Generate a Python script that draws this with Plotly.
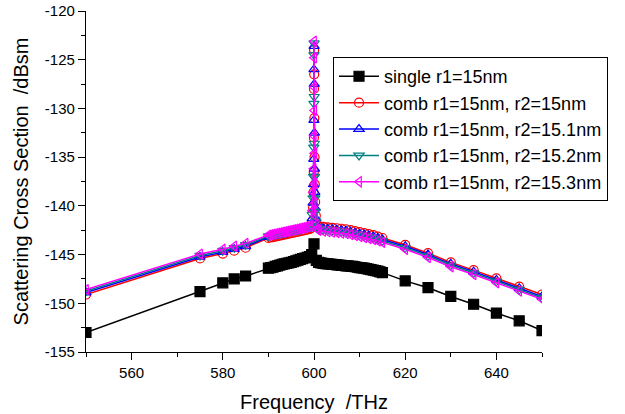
import plotly.graph_objects as go

# ---------------- data ----------------
f_single = [550, 575, 580, 582.5, 585,
            590, 590.5, 591, 591.5, 592, 592.5, 593, 593.5, 594, 594.5, 595, 595.5, 596, 596.5, 597, 597.5, 598, 598.5, 599, 599.5,
            600,
            600.5, 601, 601.5, 602, 602.5, 603, 603.5, 604, 604.5, 605, 605.5, 606, 606.5, 607, 607.5, 608, 608.5, 609, 609.5,
            610, 610.5, 611, 611.5, 612, 612.5, 613, 613.5, 614, 614.5, 615,
            620, 625, 630, 635, 640, 645, 650]
v_single = [-153.0, -148.8, -147.9, -147.5, -147.2,
            -146.4, -146.35, -146.3, -146.22, -146.15, -146.08, -146.0, -145.95, -145.9, -145.85, -145.8, -145.72, -145.65, -145.58, -145.5, -145.42, -145.35, -145.28, -145.2, -145.0,
            -143.9,
            -145.6, -145.8, -145.85, -145.9, -145.92, -145.95, -145.97, -146.0, -146.02, -146.05, -146.07, -146.1, -146.12, -146.15, -146.17, -146.2, -146.22, -146.25, -146.3,
            -146.35, -146.37, -146.4, -146.45, -146.5, -146.55, -146.6, -146.65, -146.7, -146.77, -146.85,
            -147.7, -148.4, -149.3, -150.1, -151.0, -151.8, -152.8]

f_comb = [550, 575, 580, 582.5, 585,
          590, 590.5, 591, 591.5, 592, 592.5, 593, 593.5, 594, 594.5, 595, 595.5, 596, 596.5, 597, 597.5, 598, 598.5, 599, 599.3,
          599.6, 599.8, 599.9, 599.95, 599.98, 600.0, 600.02, 600.05, 600.08, 600.12, 600.18, 600.25, 600.4, 600.7,
          601, 602, 603, 604, 605, 606, 607, 608, 609, 610, 611, 612, 613, 614, 615,
          620, 625, 630, 635, 640, 645, 650]

v_r15 = [-149.1, -145.4, -144.9, -144.6, -144.3,
         -143.3, -143.25, -143.2, -143.15, -143.1, -143.05, -143.0, -142.95, -142.9, -142.85, -142.8, -142.75, -142.7, -142.65, -142.6, -142.55, -142.5, -142.45, -142.4, -142.3,
         -141.6, -140.2, -138.6, -136.5, -133.0, -128.0, -124.0, -126.5, -131.0, -135.0, -137.8, -139.6, -141.0, -141.9,
         -142.1, -142.15, -142.2, -142.25, -142.3, -142.35, -142.4, -142.5, -142.6, -142.7, -142.8, -142.9, -143.0, -143.15, -143.3,
         -144.0, -144.85, -145.8, -146.6, -147.45, -148.3, -149.1]

v_r151 = [-148.9, -145.25, -144.75, -144.45, -144.15,
          -143.2, -143.15, -143.1, -143.05, -143.0, -142.95, -142.9, -142.85, -142.8, -142.75, -142.7, -142.65, -142.6, -142.55, -142.5, -142.45, -142.4, -142.35, -142.3, -142.2,
          -141.3, -139.7, -137.8, -135.2, -131.2, -126.0, -123.6, -127.5, -132.5, -136.2, -138.6, -140.2, -141.3, -142.0,
          -142.2, -142.3, -142.35, -142.4, -142.45, -142.5, -142.55, -142.65, -142.75, -142.85, -142.95, -143.05, -143.15, -143.3, -143.45,
          -144.15, -145.0, -145.95, -146.75, -147.6, -148.45, -149.3]

v_r152 = [-148.75, -145.1, -144.6, -144.3, -144.0,
          -143.1, -143.05, -143.0, -142.95, -142.9, -142.85, -142.8, -142.75, -142.7, -142.65, -142.6, -142.55, -142.5, -142.45, -142.4, -142.35, -142.3, -142.25, -142.2, -142.1,
          -140.9, -139.2, -137.0, -134.0, -129.5, -124.5, -123.3, -128.8, -133.6, -137.0, -139.2, -140.6, -141.6, -142.2,
          -142.35, -142.45, -142.5, -142.55, -142.6, -142.65, -142.7, -142.8, -142.9, -143.0, -143.1, -143.2, -143.3, -143.45, -143.6,
          -144.3, -145.15, -146.1, -146.9, -147.75, -148.6, -149.45]

v_r153 = [-148.6, -144.95, -144.45, -144.15, -143.85,
          -143.0, -142.95, -142.9, -142.85, -142.8, -142.75, -142.7, -142.65, -142.6, -142.55, -142.5, -142.45, -142.4, -142.35, -142.3, -142.25, -142.2, -142.15, -142.1, -142.0,
          -140.5, -138.6, -136.2, -132.8, -127.8, -123.1, -124.8, -130.2, -134.6, -137.7, -139.7, -141.0, -141.9, -142.4,
          -142.5, -142.6, -142.65, -142.7, -142.75, -142.8, -142.85, -142.95, -143.05, -143.15, -143.25, -143.35, -143.45, -143.6, -143.75,
          -144.45, -145.3, -146.25, -147.05, -147.9, -148.75, -149.6]

names = ["single r1=15nm",
         "comb r1=15nm, r2=15nm",
         "comb r1=15nm, r2=15.1nm",
         "comb r1=15nm, r2=15.2nm",
         "comb r1=15nm, r2=15.3nm"]

x_ticks = [560, 580, 600, 620, 640]
x_ticklabels = ["560", "580", "600", "620", "640"]
y_ticks = [-155, -150, -145, -140, -135, -130, -125, -120]
y_ticklabels = ["-155", "-150", "-145", "-140", "-135", "-130", "-125", "-120"]

x_title = "Frequency  /THz"
y_title = "Scattering Cross Section  /dBsm"

# ---------------- figure ----------------
FONT = "Liberation Sans, Arial, sans-serif"
fig = go.Figure()

styles = [
    ("#000000", "square", 10, f_single, v_single),
    ("#FF0000", "circle-open", 9, f_comb, v_r15),
    ("#0000FF", "triangle-up-open", 9, f_comb, v_r151),
    ("#008080", "triangle-down-open", 9, f_comb, v_r152),
    ("#FF00FF", "triangle-left-open", 9, f_comb, v_r153),
]
for name, (col, sym, sz, xs, ys) in zip(names, styles):
    fig.add_trace(go.Scatter(
        x=xs, y=ys, name=name, mode="lines+markers",
        line=dict(color=col, width=1.5),
        marker=dict(symbol=sym, size=sz, color=col, line=dict(color=col, width=1.2)),
    ))

fig.update_layout(
    width=625, height=414,
    margin=dict(l=86, r=83, t=11, b=62),
    paper_bgcolor="white", plot_bgcolor="white",
    font=dict(family=FONT, color="black", size=15),
    showlegend=True,
    legend=dict(
        x=0.5417, y=0.865, xanchor="left", yanchor="top",
        bordercolor="black", borderwidth=1, bgcolor="white",
        font=dict(family=FONT, size=18, color="black"),
        itemwidth=40, tracegroupgap=0,
    ),
)
fig.update_xaxes(
    range=[550, 650], tickmode="array", tickvals=x_ticks, ticktext=x_ticklabels,
    automargin=False,
    showline=True, linecolor="black", linewidth=1.2, mirror=False,
    showgrid=False, zeroline=False,
    ticks="outside", ticklen=7, tickwidth=1.2, tickcolor="black",
    minor=dict(tick0=550, dtick=10, ticks="outside", ticklen=4, tickwidth=1.2, tickcolor="black"),
    tickfont=dict(family=FONT, size=15, color="black"),
    title=dict(text=x_title, font=dict(family=FONT, size=20, color="black"), standoff=14),
)
fig.update_yaxes(
    range=[-155, -120], tickmode="array", tickvals=y_ticks, ticktext=y_ticklabels,
    automargin=False,
    showline=True, linecolor="black", linewidth=1.2, mirror=False,
    showgrid=False, zeroline=False,
    ticks="outside", ticklen=7, tickwidth=1.2, tickcolor="black",
    minor=dict(tick0=-155, dtick=2.5, ticks="outside", ticklen=4, tickwidth=1.2, tickcolor="black"),
    tickfont=dict(family=FONT, size=15, color="black"),
    title=dict(text=y_title, font=dict(family=FONT, size=20, color="black"), standoff=10),
)

fig.write_html("out.html", config={"displayModeBar": False},
               post_script="document.body.style.margin='0px';")
